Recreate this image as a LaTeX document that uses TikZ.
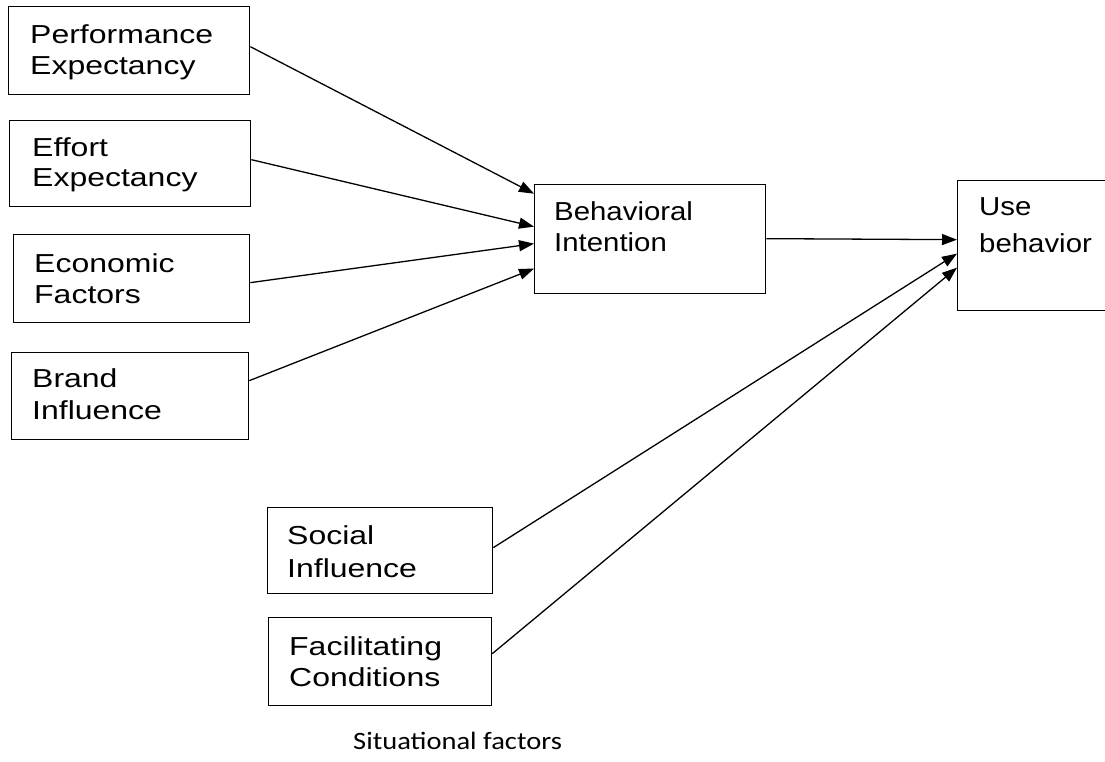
\documentclass[tikz,border=0pt]{standalone}
\usepackage{fontspec}
\setmainfont{Liberation Sans}
\newfontfamily\leftfont[FakeStretch=1.23]{Liberation Sans}
\newfontfamily\midfont[FakeStretch=1.13]{Liberation Sans}
\newfontfamily\capfont[FakeStretch=1.14]{Carlito}
\usetikzlibrary{arrows.meta}
\tikzset{
  box/.style={draw=black, line width=1.3pt, rectangle, inner sep=0pt, anchor=north west},
  ltext/.style={anchor=base west, inner sep=0pt, align=left, font=\leftfont\fontsize{26}{31}\selectfont},
  mtext/.style={anchor=base west, inner sep=0pt, align=left, font=\midfont\fontsize{26}{31}\selectfont},
  arr/.style={line width=1.3pt, -{Triangle[length=15pt,width=11pt]}}
}
\begin{document}
\begin{tikzpicture}[x=1pt,y=-1pt]
\useasboundingbox (0,0) rectangle (1105,762);
% boxes
\node[box, minimum width=241pt, minimum height=88pt] (pe) at (8,6) {};
\node[box, minimum width=241pt, minimum height=86pt] (ee) at (9,120) {};
\node[box, minimum width=236pt, minimum height=88pt] (ef) at (13,234) {};
\node[box, minimum width=237pt, minimum height=87pt] (bi) at (11,352) {};
\node[box, minimum width=231pt, minimum height=109pt] (bh) at (534,184) {};
\node[box, minimum width=152pt, minimum height=130pt] (ub) at (957,180) {};
\node[box, minimum width=225pt, minimum height=86pt] (si) at (267,507) {};
\node[box, minimum width=223pt, minimum height=88pt] (fc) at (268,617) {};
% texts (anchored at the baseline of the last line)
\node[ltext] (pe-t) at (30,75) {Performance\\Expectancy};
\node[ltext] (ee-t) at (32,187) {Effort\\Expectancy};
\node[ltext] (ef-t) at (34,303) {Economic\\Factors};
\node[ltext] (bi-t) at (32,419) {Brand\\[1pt]Influence};
\node[mtext] (bh-t) at (554,251) {Behavioral\\Intention};
\node[mtext] (ub-t) at (979,252) {Use\\[6pt]behavior};
\node[ltext] (si-t) at (287,577) {Social\\[2pt]Influence};
\node[ltext] (fc-t) at (289,686) {Facilitating\\Conditions};
\node[anchor=base west, inner sep=0pt, font=\capfont\fontsize{25}{30}\selectfont] (sf) at (353,749) {Situational factors};
% connectors
\draw[arr] ([yshift=4pt]pe.east) -- ([yshift=45.5pt]bh.west);
\draw[arr] ([yshift=4pt]ee.east) -- ([yshift=12.5pt]bh.west);
\draw[arr] ([yshift=-4pt]ef.east) -- ([yshift=-4.5pt]bh.west);
\draw[arr] ([yshift=15.5pt]bi.east) -- ([yshift=-29.5pt]bh.west);
\draw[arr] ([yshift=0.5pt]bh.east) -- ([yshift=6pt]ub.west);
\draw[arr] ([yshift=3pt]si.east) -- ([yshift=-8pt]ub.west);
\draw[arr] ([yshift=8pt]fc.east) -- ([yshift=-22pt]ub.west);
\end{tikzpicture}
\end{document}
